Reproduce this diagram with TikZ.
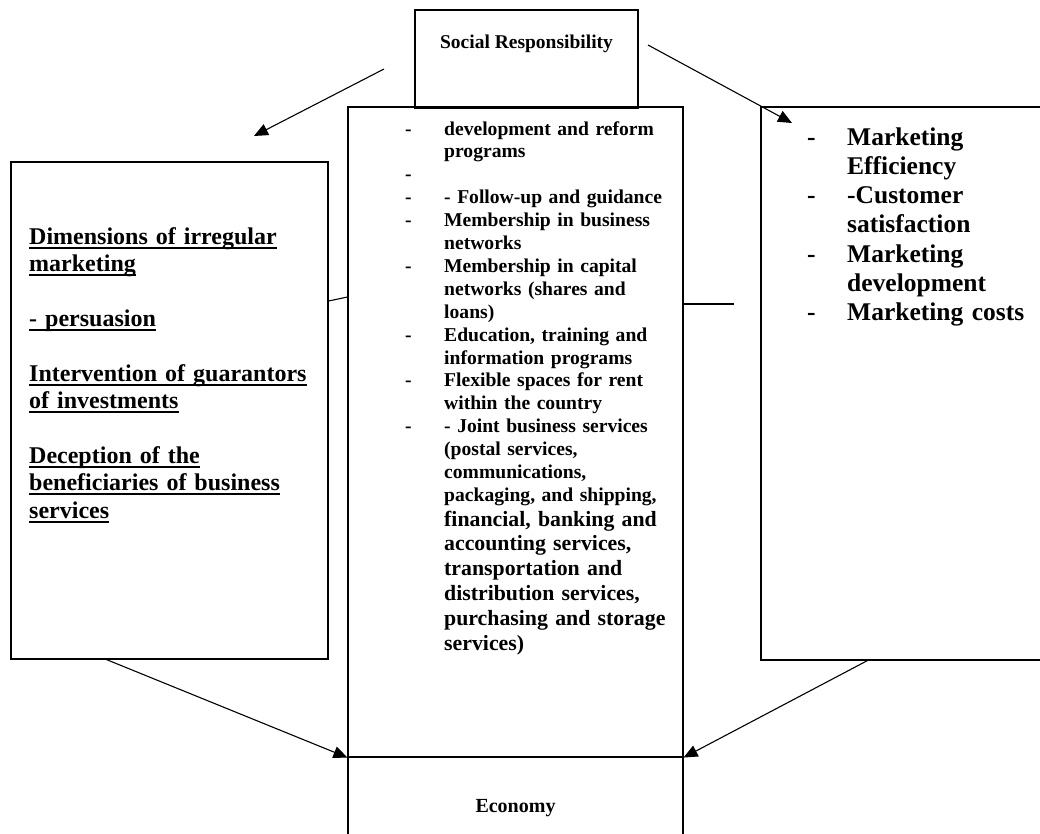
\documentclass[tikz,border=0pt]{standalone}
\usepackage{fontspec}
\setmainfont{Liberation Serif}
\usetikzlibrary{arrows.meta}
\newsavebox\ulbox
\newcommand\myul[1]{\leavevmode\sbox\ulbox{#1}\rlap{\rule[-4.5pt]{\wd\ulbox}{1.7pt}}\usebox\ulbox}
\newcommand\dsh[1]{\makebox[#1][l]{-}}
\begin{document}
\begin{tikzpicture}[x=1pt,y=-1pt,
  box/.style={draw,line width=1.1pt,rectangle,inner sep=0pt},
  arr/.style={line width=1.1pt,-{Triangle[length=14pt,width=12pt]}},
  con/.style={line width=1.1pt},
  txt/.style={inner sep=0pt,align=left,font=\bfseries}]
\useasboundingbox (0,0) rectangle (1040,833);
\clip (0,0) rectangle (1040,833);
% boxes
\node[box,minimum width=335pt,minimum height=650pt] (mid) at (515.5,432) {};
\node[box,minimum width=335pt,minimum height=110pt] (eco) at (515.5,812) {};
\node[box,minimum width=223pt,minimum height=98pt] (top) at (526.5,59) {};
\node[box,minimum width=317pt,minimum height=497pt] (lbox) at (169.5,410.5) {};
\node[box,minimum width=300pt,minimum height=553pt] (rbox) at (911,383.5) {};
% texts
\node[txt,font=\bfseries\fontsize{19.5}{22}\selectfont] (toptext) at (526.5,44) {Social Responsibility};
\node[txt,anchor=base,font=\bfseries\fontsize{20}{23}\selectfont] (ecotext) at (515.5,812) {Economy};
\node[txt,anchor=base west,text width=310pt,font=\bfseries\fontsize{24}{27.4}\selectfont] (ltext) at (29,244) {%
\myul{Dimensions of irregular}\\
\myul{marketing}\\[27.4pt]
\myul{- persuasion}\\[27.4pt]
\myul{Intervention of guarantors}\\
\myul{of investments}\\[27.4pt]
\myul{Deception of the}\\
\myul{beneficiaries of business}\\
\myul{services}};
\node[txt,anchor=base west,text width=280pt,font=\bfseries\fontsize{19.6}{22.9}\selectfont] (mtext) at (405,135) {%
\dsh{39pt}development and reform\\
\hspace*{39pt}programs\\
\dsh{39pt}\\
\dsh{39pt}- Follow-up and guidance\\
\dsh{39pt}Membership in business\\
\hspace*{39pt}networks\\
\dsh{39pt}Membership in capital\\
\hspace*{39pt}networks (shares and\\
\hspace*{39pt}loans)\\
\dsh{39pt}Education, training and\\
\hspace*{39pt}information programs\\
\dsh{39pt}Flexible spaces for rent\\
\hspace*{39pt}within the country\\
\dsh{39pt}- Joint business services\\
\hspace*{39pt}(postal services,\\
\hspace*{39pt}communications,\\
\hspace*{39pt}packaging, and shipping,};
\node[txt,anchor=base west,text width=250pt,font=\bfseries\fontsize{21.8}{24.8}\selectfont] (mtext2) at (444,526) {%
financial, banking and\\
accounting services,\\
transportation and\\
distribution services,\\
purchasing and storage\\
services)};
\node[txt,anchor=base west,text width=240pt,font=\bfseries\fontsize{25.5}{29.3}\selectfont] (rtext) at (807,145) {%
\dsh{40pt}Marketing\\
\hspace*{40pt}Efficiency\\
\dsh{40pt}-Customer\\
\hspace*{40pt}satisfaction\\
\dsh{40pt}Marketing\\
\hspace*{40pt}development\\
\dsh{40pt}Marketing costs};
% connector ends
\coordinate (tlA) at (384,69);
\coordinate (tlB) at (254,136);
\coordinate (trA) at (648,45);
\coordinate (trB) at (792,123);
\coordinate (rcE) at (734,304);
% connectors
\draw[arr] (tlA) -- (tlB);
\draw[arr] (trA) -- (trB);
\draw[arr] ([xshift=96pt]lbox.south west) -- (mid.south west);
\draw[arr] ([xshift=107pt]rbox.south west) -- (mid.south east);
\draw[con] ([yshift=109.5pt]lbox.east) -- ([yshift=135pt]mid.west);
\draw[con] ([yshift=128pt]mid.east) -- (rcE);
\end{tikzpicture}
\end{document}
